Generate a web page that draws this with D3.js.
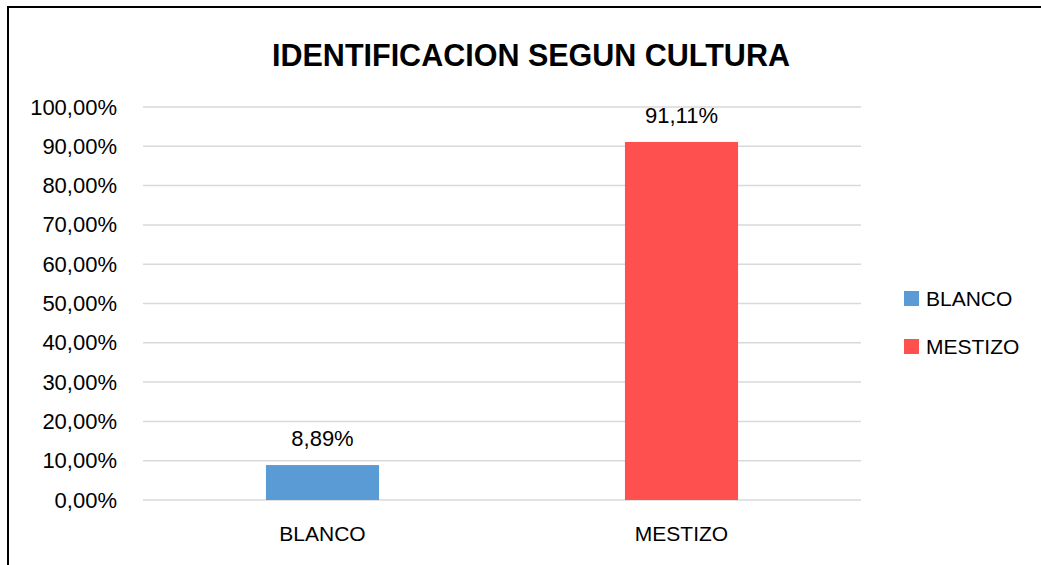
<!DOCTYPE html>
<html>
<head>
<meta charset="utf-8">
<script src="https://cdn.jsdelivr.net/npm/d3@7"></script>
<style>
  html, body { margin: 0; padding: 0; background: #fff; }
  svg { display: block; }
  text { font-family: "Liberation Sans", Arial, sans-serif; fill: #000; }
</style>
</head>
<body>
<svg id="chart" width="1041" height="565"></svg>
<script>
const categories = ["BLANCO", "MESTIZO"];
const values = [0.0889, 0.9111];
const valueLabels = ["8,89%", "91,11%"];
const colors = ["#5B9BD5", "#FF5050"];
const tickValues = [0, 0.1, 0.2, 0.3, 0.4, 0.5, 0.6, 0.7, 0.8, 0.9, 1.0];
const tickLabels = ["0,00%", "10,00%", "20,00%", "30,00%", "40,00%", "50,00%", "60,00%", "70,00%", "80,00%", "90,00%", "100,00%"];
const title = "IDENTIFICACION SEGUN CULTURA";

const svg = d3.select("#chart");
const W = 1041, H = 565;

// outer border (only top and left visible within frame)
svg.append("rect")
  .attr("x", 8).attr("y", 7)
  .attr("width", 1100).attr("height", 700)
  .attr("fill", "#fff").attr("stroke", "#000").attr("stroke-width", 2);

const plot = { left: 143, right: 861, top: 107, bottom: 500 };

const y = d3.scaleLinear().domain([0, 1]).range([plot.bottom, plot.top]);
const x = d3.scaleBand().domain(categories).range([plot.left, plot.right])
  .paddingInner(0.685).paddingOuter(0.3425);

// gridlines
svg.append("g").selectAll("line").data(tickValues).join("line")
  .attr("x1", plot.left).attr("x2", plot.right)
  .attr("y1", d => y(d)).attr("y2", d => y(d))
  .attr("stroke", "#D9D9D9").attr("stroke-width", 1.5);

// y axis
const yAxis = d3.axisLeft(y).tickValues(tickValues)
  .tickFormat((d, i) => tickLabels[i]).tickSize(0).tickPadding(26);
const gy = svg.append("g").attr("transform", `translate(${plot.left},0)`).call(yAxis);
gy.select(".domain").remove();
gy.selectAll("text").attr("font-size", 22).attr("fill", "#000")
  .style("font-family", '"Liberation Sans", Arial, sans-serif');

// x axis
const xAxis = d3.axisBottom(x).tickSize(0).tickPadding(26);
const gx = svg.append("g").attr("transform", `translate(0,${plot.bottom})`).call(xAxis);
gx.select(".domain").remove();
gx.selectAll("text").attr("font-size", 21).attr("fill", "#000")
  .style("font-family", '"Liberation Sans", Arial, sans-serif');

// bars
svg.append("g").selectAll("rect").data(categories).join("rect")
  .attr("x", d => x(d))
  .attr("width", x.bandwidth())
  .attr("y", (d, i) => y(values[i]))
  .attr("height", (d, i) => y(0) - y(values[i]))
  .attr("fill", (d, i) => colors[i]);

// data labels
svg.append("g").selectAll("text").data(categories).join("text")
  .attr("x", d => x(d) + x.bandwidth() / 2)
  .attr("y", (d, i) => y(values[i]) - 19)
  .attr("text-anchor", "middle")
  .attr("font-size", 22)
  .text((d, i) => valueLabels[i]);

// title
svg.append("text")
  .attr("x", 531).attr("y", 66)
  .attr("text-anchor", "middle")
  .attr("font-size", 30.5).attr("font-weight", "bold")
  .text(title);

// legend
const leg = svg.append("g").selectAll("g").data(categories).join("g")
  .attr("transform", (d, i) => `translate(904,${291 + i * 48})`);
leg.append("rect").attr("width", 15).attr("height", 15)
  .attr("fill", (d, i) => colors[i]);
leg.append("text").attr("x", 22).attr("y", 15)
  .attr("font-size", 21).text(d => d);
</script>
</body>
</html>
